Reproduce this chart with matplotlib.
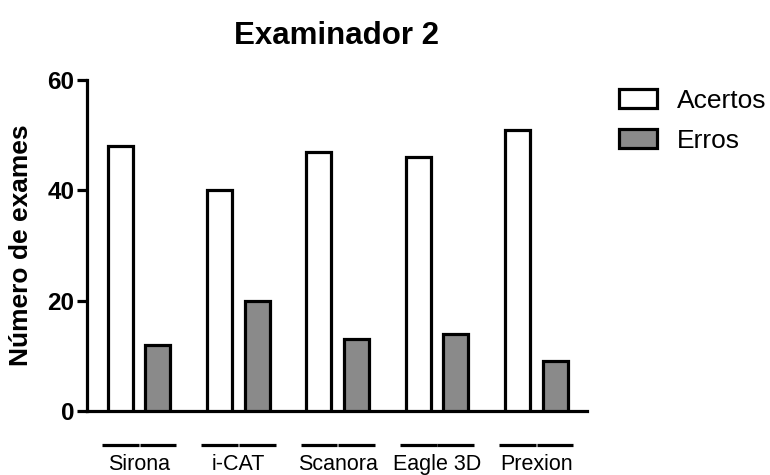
import matplotlib
matplotlib.use("Agg")
import matplotlib.pyplot as plt
import matplotlib.transforms as mtransforms
import numpy as np

plt.rcParams['font.family'] = ['Liberation Sans', 'DejaVu Sans']

categories = ["Sirona", "i-CAT", "Scanora", "Eagle 3D", "Prexion"]
acertos = [48, 40, 47, 46, 51]
erros = [12, 20, 13, 14, 9]
series_names = ["Acertos", "Erros"]
yticks = [0, 20, 40, 60]

fig = plt.figure(figsize=(7.7, 4.75), dpi=100)
ax = fig.add_axes([87/770, 1-411/475, 500/770, 331/475])

x = np.arange(len(categories))
w = 0.252
off = 0.189
lw = 2.3
ax.bar(x - off, acertos, w, color='white', edgecolor='black', linewidth=lw,
       label=series_names[0], zorder=3)
ax.bar(x + off, erros, w, color='#8a8a8a', edgecolor='black', linewidth=lw,
       label=series_names[1], zorder=3)

ax.set_xlim(-0.526, 4.511)
ax.set_ylim(0, 60)
ax.set_yticks(yticks)
ax.tick_params(axis='y', length=7, width=lw, pad=2, labelsize=17.5)
for lab in ax.get_yticklabels():
    lab.set_fontweight('bold')
ax.set_xticks(x, categories)
ax.tick_params(axis='x', length=0, pad=31, labelsize=15.5)

for s in ['top', 'right']:
    ax.spines[s].set_visible(False)
for s in ['left', 'bottom']:
    ax.spines[s].set_linewidth(lw)

# group lines beneath categories
trans = mtransforms.blended_transform_factory(ax.transData, ax.transAxes)
half = 0.373
for xi in x:
    ax.plot([xi - half, xi - 0.003], [-0.103, -0.103], color='black', lw=2.3,
            transform=trans, clip_on=False, solid_capstyle='butt')
    ax.plot([xi + 0.003, xi + half], [-0.103, -0.103], color='black', lw=2.3,
            transform=trans, clip_on=False, solid_capstyle='butt')

ax.set_ylabel("Número de exames", fontsize=19, fontweight='bold')
ax.yaxis.set_label_coords(-0.108, 0.5)

fig.text(337/770, 1-36/475, "Examinador 2", fontsize=22.5, fontweight='bold',
         ha='center', va='center')

leg = ax.legend(loc='upper left', bbox_to_anchor=(619/770, 1-89/475),
                bbox_transform=fig.transFigure, frameon=False, fontsize=19,
                handlelength=1.45, handleheight=0.72, handletextpad=0.75,
                labelspacing=0.6, borderaxespad=0, borderpad=0)

fig.savefig("out.png", dpi=100)
